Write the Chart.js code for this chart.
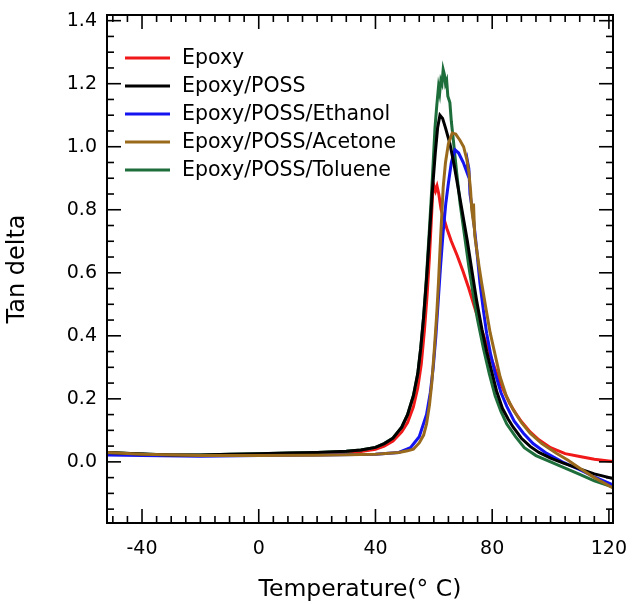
<!DOCTYPE html>
<html><head><meta charset="utf-8">
<script src="https://cdn.jsdelivr.net/npm/chart.js@4/dist/chart.umd.min.js"></script>
<style>html,body{margin:0;padding:0;background:#fff;}canvas{display:block;}</style>
</head><body>
<canvas id="c" width="633" height="604"></canvas>
<script>
const seriesNames = ['Epoxy', 'Epoxy/POSS', 'Epoxy/POSS/Ethanol', 'Epoxy/POSS/Acetone', 'Epoxy/POSS/Toluene'];
const seriesColors = ['#f01818', '#000000', '#1414f0', '#9a6a1c', '#1e6e3c'];

const epoxyT = [-52,-40,-30,-20,-10,0,10,20,30,35,40,43,46,49,51,53,54.5,55.7,56.8,57.7,58.5,59.1,59.6,60.1,60.6,61.1,61.7,62.5,63.5,64.5,66,68,70,72,74,76,78,80,82,84,86,88,90,93,96,100,105,110,115,121.4];
const epoxyY = [0.028,0.024,0.021,0.020,0.021,0.022,0.023,0.025,0.029,0.033,0.040,0.050,0.066,0.095,0.125,0.175,0.235,0.31,0.42,0.53,0.65,0.76,0.85,0.875,0.86,0.875,0.85,0.80,0.77,0.74,0.70,0.655,0.605,0.55,0.49,0.43,0.375,0.32,0.27,0.225,0.185,0.155,0.128,0.095,0.07,0.045,0.026,0.017,0.008,0.001];

const possT = [-52,-40,-30,-20,-10,0,10,20,30,35,40,43,46,49,51,53,54.5,55.5,56.5,57.5,58.5,59.5,60.5,61.3,62.1,63,64,65.5,67,68.5,70,71.5,73,74.7,76.5,78.1,80,81.5,83.5,85.5,87.2,90,93,96,100,104.4,110,115,121.4];
const possY = [0.030,0.025,0.022,0.022,0.024,0.026,0.028,0.030,0.034,0.038,0.046,0.058,0.075,0.11,0.15,0.21,0.28,0.36,0.46,0.58,0.72,0.86,0.98,1.06,1.10,1.09,1.06,1.01,0.94,0.86,0.78,0.70,0.61,0.51,0.42,0.35,0.28,0.225,0.17,0.135,0.11,0.075,0.049,0.030,0.012,-0.004,-0.022,-0.038,-0.053];

const ethanolT = [-52,-40,-20,0,20,40,48,52,55,57.5,58.8,59.8,60.7,61.5,62.3,63.2,64.1,65,66,66.6,67.3,68.5,70.1,71.3,71.6,72.0,72.4,73.2,74.1,75,75.8,77,78.1,79.5,81,83,85,87.5,90.7,94,98.7,104,110,115,121.4];
const ethanolY = [0.022,0.020,0.018,0.020,0.022,0.024,0.030,0.045,0.080,0.15,0.22,0.30,0.40,0.51,0.62,0.73,0.82,0.885,0.95,0.97,0.99,0.98,0.95,0.92,0.95,0.93,0.85,0.80,0.726,0.645,0.567,0.48,0.408,0.34,0.282,0.22,0.176,0.13,0.091,0.058,0.027,0.0,-0.025,-0.048,-0.073];

const acetoneT = [-52,-40,-20,0,20,40,48,51,53,55,56.5,57.5,58.5,59.3,60.2,61,61.6,62.1,62.7,63.2,64,65,66.3,67.5,69,70.2,71.3,72,72.6,73,73.3,73.6,74,74.7,75.5,76.4,77.8,79.3,81,82.7,84.8,87.2,90,93,97,102,106,110,115,121.4];
const acetoneY = [0.030,0.024,0.020,0.020,0.021,0.024,0.030,0.035,0.040,0.060,0.085,0.12,0.18,0.25,0.36,0.47,0.57,0.67,0.78,0.87,0.95,1.01,1.043,1.04,1.02,1.00,0.96,0.92,0.86,0.80,0.78,0.82,0.72,0.673,0.62,0.567,0.49,0.41,0.34,0.27,0.21,0.165,0.125,0.091,0.058,0.027,0.005,-0.02,-0.05,-0.083];

const tolueneT = [-52,-40,-30,-20,-10,0,10,20,30,35,40,43,46,49,51,53,54.5,55.5,56.5,57.5,58.5,59.5,60.4,61,61.6,62.0,62.4,62.8,63.2,63.6,64.0,64.4,64.8,65.5,66,66.7,67.8,69,70.5,72,73.5,75,77,79,81,83,85,88,91,95,100,105,110,115,121.4];
const tolueneY = [0.030,0.025,0.022,0.022,0.024,0.026,0.028,0.030,0.034,0.038,0.046,0.058,0.076,0.11,0.15,0.21,0.28,0.36,0.46,0.59,0.74,0.90,1.06,1.13,1.19,1.17,1.21,1.20,1.245,1.23,1.20,1.21,1.16,1.14,1.08,1.02,0.92,0.82,0.72,0.62,0.53,0.45,0.36,0.28,0.21,0.16,0.12,0.08,0.045,0.02,0.0,-0.02,-0.04,-0.06,-0.08];

const xTickValues = [-40, 0, 40, 80, 120];
const yTickValues = [0, 0.2, 0.4, 0.6, 0.8, 1.0, 1.2, 1.4];
const xMinorStep = 5, yMinorStep = 0.05;

const seriesT = [epoxyT, possT, ethanolT, acetoneT, tolueneT];
const seriesY = [epoxyY, possY, ethanolY, acetoneY, tolueneY];
const drawOrder = [5, 2, 3, 1, 4];

const datasets = seriesNames.map((name, i) => ({
  label: name,
  data: seriesT[i].map((t, k) => ({x: t, y: seriesY[i][k]})),
  borderColor: seriesColors[i],
  backgroundColor: seriesColors[i],
  borderWidth: 3,
  pointRadius: 0,
  tension: 0,
  fill: false,
  order: drawOrder[i]
}));

const FONT = 'DejaVu Sans';

const framePlugin = {
  id: 'frame',
  afterDraw(chart) {
    const {ctx, chartArea: {left, right, top, bottom}, scales: {x, y}} = chart;
    ctx.save();
    ctx.strokeStyle = '#000';
    ctx.lineWidth = 2;
    ctx.strokeRect(left, top, right - left, bottom - top);
    ctx.lineWidth = 1.6;
    const line = (x1, y1, x2, y2) => { ctx.beginPath(); ctx.moveTo(x1, y1); ctx.lineTo(x2, y2); ctx.stroke(); };
    for (let v = -50; v <= 120; v += xMinorStep) {
      const px = x.getPixelForValue(v);
      const L = xTickValues.includes(v) ? 14 : 7;
      line(px, bottom, px, bottom - L);
      line(px, top, px, top + L);
    }
    for (let k = -3; k <= 28; k++) {
      const v = k * yMinorStep;
      const py = y.getPixelForValue(v);
      const L = (k % 4 === 0) ? 14 : 7;
      line(left, py, left + L, py);
      line(right, py, right - L, py);
    }
    // legend
    ctx.font = '20.5px "' + FONT + '"';
    ctx.textBaseline = 'middle';
    ctx.textAlign = 'left';
    seriesNames.forEach((name, i) => {
      const yy = 58 + 28 * i;
      ctx.strokeStyle = seriesColors[i];
      ctx.lineWidth = 3;
      line(125, yy, 170, yy);
      ctx.fillStyle = '#000';
      ctx.fillText(name, 182, yy + 1);
    });
    ctx.restore();
  }
};

new Chart(document.getElementById('c'), {
  type: 'line',
  data: {datasets},
  options: {
    responsive: false,
    animation: false,
    devicePixelRatio: 1,
    layout: {padding: {left: 0, right: 20, top: 15, bottom: 0}},
    plugins: {legend: {display: false}, tooltip: {enabled: false}},
    scales: {
      x: {
        type: 'linear', min: -52, max: 121.4,
        grid: {display: false, drawTicks: false}, border: {display: false},
        afterBuildTicks: a => { a.ticks = xTickValues.map(v => ({value: v})); },
        ticks: {font: {family: FONT, size: 19}, color: '#000', padding: 15, maxRotation: 0, autoSkip: false, callback: v => String(v)},
        title: {display: true, text: 'Temperature(° C)', font: {family: FONT, size: 23.5}, color: '#000', padding: {top: 0, bottom: 0}},
        afterFit: s => { s.height = 81; s.paddingLeft = 0; s.paddingRight = 0; }
      },
      y: {
        type: 'linear', min: -0.194, max: 1.418,
        grid: {display: false, drawTicks: false}, border: {display: false},
        afterBuildTicks: a => { a.ticks = yTickValues.map(v => ({value: v})); },
        ticks: {font: {family: FONT, size: 19}, color: '#000', padding: 10, autoSkip: false, callback: v => v.toFixed(1)},
        title: {display: true, text: 'Tan delta', font: {family: FONT, size: 24}, color: '#000', padding: {top: 3, bottom: 0}},
        afterFit: s => { s.width = 107; s.paddingTop = 0; s.paddingBottom = 0; }
      }
    }
  },
  plugins: [framePlugin]
});
</script>
</body></html>
